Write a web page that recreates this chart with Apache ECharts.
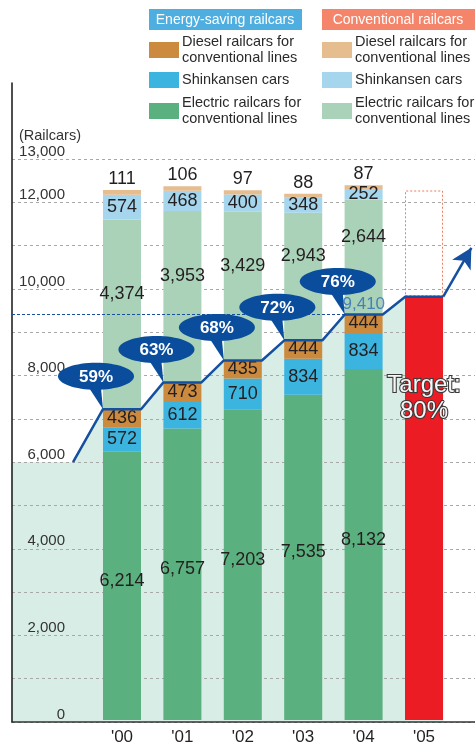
<!DOCTYPE html>
<html><head><meta charset="utf-8">
<script src="https://cdn.jsdelivr.net/npm/echarts@6/dist/echarts.min.js"></script>
<style>html,body{margin:0;padding:0;background:#fff}#c{width:475px;height:746px}</style>
</head><body><div id="c"></div>
<script>
// ---------- data ----------
const years = ["'00","'01","'02","'03","'04","'05"];
const esElectric   = [6214, 6757, 7203, 7535, 8132];
const esShinkansen = [572, 612, 710, 834, 834];
const esDiesel     = [436, 473, 435, 444, 444];
const cvElectric   = [4374, 3953, 3429, 2943, 2644];
const cvShinkansen = [574, 468, 400, 348, 252];
const cvDiesel     = [111, 106, 97, 88, 87];
const sharePct     = [59, 63, 68, 72, 76];
const target05     = 9820;   // energy-saving target for '05 (80%)
const target05Rest = 2450;   // remaining conventional railcars
const targetLabel  = 'Target:\n80%';
const lineStartValue = 6000;
const arrowEndValue  = 10950;
const yTickLabels = [0, 2000, 4000, 6000, 8000, 10000, 12000, 13000];
const legendHeaders = ['Energy-saving railcars', 'Conventional railcars'];
const legendNames = ['Diesel railcars for\nconventional lines', 'Shinkansen cars', 'Electric railcars for\nconventional lines'];

// ---------- style / layout ----------
const FF = '"Liberation Sans", Arial, Helvetica, sans-serif';
const C = {
  esDiesel:'#cc8a3e', esShin:'#3cb4e0', esElec:'#5bb07f',
  cvDiesel:'#e6bd8f', cvShin:'#a5d6ee', cvElec:'#a9d2b8',
  hdrBlue:'#4eaee0', hdrRed:'#f4846a', teal:'#d8ede6', red:'#ec1c24',
  blue:'#1550a0', bubble:'#0b4d9d', txt:'#231f20'
};
const xMin = -1.82, xMax = 5.84, hw = 0.3144, lineStartX = -0.81, arrowEndX = 5.78;
const fmt = v => Number(v).toLocaleString('en-US');
const esTot = esElectric.map((v, i) => v + esShinkansen[i] + esDiesel[i]);
const pad6 = arr => arr.concat(['-']);

function barSeries(name, arr, color, label) {
  return {
    type: 'bar', name, stack: 'all', xAxisIndex: 2, yAxisIndex: 2, data: pad6(arr), barWidth: 38, barGap: '-100%',
    itemStyle: { color }, z: 3,
    label: Object.assign({ show: true, position: 'inside', fontSize: 18, color: C.txt,
      fontFamily: FF, formatter: p => fmt(p.value) }, label)
  };
}

const stair = [[lineStartX, lineStartValue]];
esTot.forEach((v, i) => stair.push([i - hw, v], [i + hw, v]));
stair.push([5 - hw, target05], [5 + hw, target05]);
const areaPts = [[xMin, lineStartValue]].concat(stair);

// ---------- legend graphics ----------
const graphics = [];
const colX = [149, 322];
const rowY = [42, 72, 103];
const colColors = [[C.esDiesel, C.esShin, C.esElec], [C.cvDiesel, C.cvShin, C.cvElec]];
legendHeaders.forEach((h, c) => {
  graphics.push({ type: 'rect', left: colX[c], top: 9, shape: { width: 153, height: 21 },
    style: { fill: c === 0 ? C.hdrBlue : C.hdrRed } });
  graphics.push({ type: 'text', x: colX[c] + 76, y: 20,
    style: { text: h, fill: '#fff', font: '14px ' + FF, align: 'center', verticalAlign: 'middle' } });
  legendNames.forEach((n, r) => {
    graphics.push({ type: 'rect', left: colX[c], top: rowY[r], shape: { width: 30, height: 16 },
      style: { fill: colColors[c][r] } });
    graphics.push({ type: 'text', x: colX[c] + 33, y: rowY[r] + 8,
      style: { text: n, fill: '#2a2a2a', font: '14.5px ' + FF, lineHeight: 16, align: 'left', verticalAlign: 'middle' } });
  });
});

const option = {
  animation: false,
  title: { text: '(Railcars)', left: 14, top: 123, textStyle: { fontSize: 14.5, fontWeight: 'normal', color: '#333', fontFamily: FF } },
  graphic: graphics,
  grid: [
    { left: 12, right: 0, top: 159, bottom: 24 },
    { left: 12, right: 0, top: 83, bottom: 24 },
    { left: 91.8, right: 20.8, top: 159, bottom: 24 }
  ],
  xAxis: [
    { type: 'value', gridIndex: 0, min: xMin, max: xMax, show: false },
    { type: 'value', gridIndex: 1, min: 0, max: 1, axisLine: { show: true, lineStyle: { color: '#333', width: 1.6 } },
      axisTick: { show: false }, axisLabel: { show: false }, splitLine: { show: false } },
    { type: 'category', gridIndex: 2, data: years, axisLine: { show: false }, axisTick: { show: false },
      axisLabel: { fontSize: 17, color: C.txt, fontFamily: FF, margin: 9 } }
  ],
  yAxis: [
    { type: 'value', gridIndex: 0, min: 0, max: 13000, interval: 1000,
      axisLine: { show: false }, axisTick: { show: false },
      splitLine: { show: true, lineStyle: { color: '#a8a8a8', type: [3, 3], width: 1 } },
      axisLabel: { inside: true, align: 'right', margin: 53, verticalAlign: 'bottom', fontSize: 15, color: '#333',
        fontFamily: FF, formatter: v => yTickLabels.includes(v) ? fmt(v) : '' } },
    { type: 'value', gridIndex: 1, min: 0, max: 1, axisLine: { show: true, onZero: false, lineStyle: { color: '#222', width: 1.6 } },
      axisTick: { show: false }, axisLabel: { show: false }, splitLine: { show: false } },
    { type: 'value', gridIndex: 2, min: 0, max: 13000, show: false }
  ],
  series: [
    { type: 'line', name: 'area', data: areaPts, symbol: 'none', silent: true, z: -1,
      lineStyle: { width: 0 }, areaStyle: { color: C.teal, opacity: 1 } },
    barSeries('Electric railcars (energy-saving)', esElectric, C.esElec, { offset: [0, -5] }),
    barSeries('Shinkansen cars (energy-saving)', esShinkansen, C.esShin, {}),
    barSeries('Diesel railcars (energy-saving)', esDiesel, C.esDiesel, {}),
    barSeries('Electric railcars (conventional)', cvElectric, C.cvElec, { offset: [0, -20] }),
    barSeries('Shinkansen cars (conventional)', cvShinkansen, C.cvShin, {}),
    barSeries('Diesel railcars (conventional)', cvDiesel, C.cvDiesel, { position: 'top', distance: 2 }),
    { type: 'bar', name: 'target', stack: 'tgt', xAxisIndex: 2, yAxisIndex: 2, data: ['-', '-', '-', '-', '-', target05],
      barWidth: 38, barGap: '-100%', z: 3, itemStyle: { color: C.red },
      label: { show: true, position: ['50%', 76], align: 'center', verticalAlign: 'top', formatter: targetLabel,
        fontSize: 24, lineHeight: 26, color: '#f6f6f6', textBorderColor: '#3a3a3a', textBorderWidth: 2.2, fontFamily: FF } },
    { type: 'bar', name: 'targetRest', stack: 'tgt', xAxisIndex: 2, yAxisIndex: 2, data: ['-', '-', '-', '-', '-', target05Rest],
      barWidth: 38, barGap: '-100%', z: 3,
      itemStyle: { color: 'rgba(0,0,0,0)', borderColor: '#f07a5c', borderWidth: 1, borderType: [2, 2] } },
    { type: 'line', name: 'share', data: stair, symbol: 'none', z: 5, clip: false,
      lineStyle: { color: C.blue, width: 2.5 },
      markLine: { silent: true, symbol: ['none', 'arrow'], symbolSize: [16, 20], label: { show: false },
        lineStyle: { color: C.blue, width: 2.5, type: 'solid' },
        data: [[{ coord: [5 + hw, target05] }, { coord: [arrowEndX, arrowEndValue] }]] } },
    { type: 'scatter', name: 'latest', data: [[4, esTot[4]]], symbolSize: 0, z: 6,
      label: { show: true, position: 'top', distance: 2, formatter: p => fmt(p.value[1]), fontSize: 17,
        color: '#2d6bb4', fontFamily: FF },
      markLine: { silent: true, symbol: 'none', label: { show: false },
        lineStyle: { color: '#1a4f9c', type: [3, 2], width: 1.2 },
        data: [[{ coord: [xMin, esTot[4]] }, { coord: [4 - hw, esTot[4]] }]] } },
    { type: 'custom', name: 'bubbles', z: 7, data: esTot.map((v, i) => [i, v, sharePct[i]]),
      renderItem: (params, api) => {
        const tip = api.coord([api.value(0) - hw, api.value(1)]);
        const cx = tip[0] - 7, cy = tip[1] - 33;
        return { type: 'group', children: [
          { type: 'ellipse', shape: { cx, cy, rx: 38, ry: 13.5 }, style: { fill: C.bubble } },
          { type: 'polygon', shape: { points: [[cx - 8, cy + 10], [tip[0], tip[1]], [cx + 5, cy + 12]] }, style: { fill: C.bubble } },
          { type: 'text', style: { text: api.value(2) + '%', x: cx, y: cy + 1, align: 'center', verticalAlign: 'middle',
            fill: '#fff', font: 'bold 17px ' + FF } }
        ] };
      } }
  ]
};
const chart = echarts.init(document.getElementById('c'), null, { renderer: 'canvas' });
chart.setOption(option);
</script></body></html>
